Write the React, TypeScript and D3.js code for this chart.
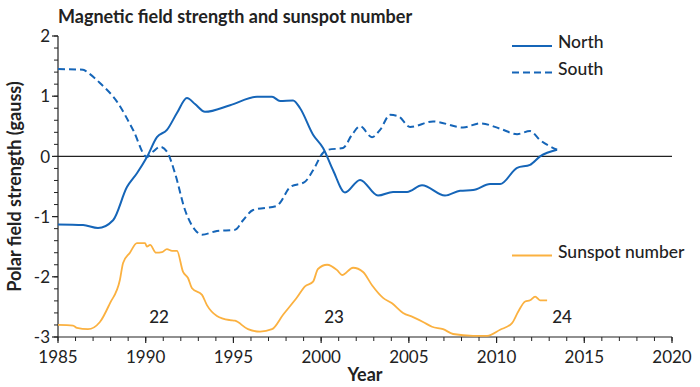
import React from "react";
import * as d3 from "d3";

const northYears = [1985, 1986.43, 1987.28, 1988.14, 1988.93, 1989.5, 1990.07, 1990.64, 1991.21, 1991.78, 1992.35, 1992.81, 1993.38, 1994.81, 1996.35, 1997.2, 1997.66, 1998.4, 1998.8, 1999.54, 2000.11, 2000.68, 2001.36, 2002.22, 2003.24, 2004.1, 2004.9, 2005.75, 2007.06, 2007.92, 2008.66, 2009.63, 2010.2, 2011.17, 2011.91, 2012.48, 2013.45];
const northValues = [-1.13, -1.14, -1.19, -1.06, -0.51, -0.28, -0.01, 0.32, 0.44, 0.72, 0.97, 0.87, 0.74, 0.85, 0.99, 0.99, 0.92, 0.93, 0.8, 0.36, 0.14, -0.23, -0.6, -0.39, -0.65, -0.59, -0.59, -0.48, -0.65, -0.57, -0.56, -0.46, -0.46, -0.19, -0.14, 0.0, 0.11];

const southYears = [1985, 1986.43, 1986.71, 1987.39, 1988.36, 1989.28, 1990.07, 1990.42, 1990.82, 1991.21, 1991.67, 1992.24, 1992.81, 1993.21, 1994.06, 1995.09, 1995.55, 1996.12, 1997.49, 1997.66, 1998.23, 1999.08, 1999.54, 2000.11, 2000.39, 2001.25, 2001.76, 2002.22, 2002.9, 2003.36, 2003.93, 2004.38, 2005.07, 2006.38, 2008.09, 2009.06, 2010.2, 2011.17, 2011.91, 2012.48, 2013.45];
const southValues = [1.45, 1.44, 1.39, 1.22, 0.91, 0.44, -0.01, 0.08, 0.16, 0.08, -0.28, -0.89, -1.22, -1.3, -1.24, -1.22, -1.06, -0.89, -0.82, -0.77, -0.51, -0.42, -0.23, 0.06, 0.11, 0.14, 0.36, 0.5, 0.32, 0.44, 0.69, 0.67, 0.49, 0.58, 0.48, 0.55, 0.46, 0.37, 0.42, 0.27, 0.11];

const sunspotYears = [1985, 1985.86, 1986.08, 1986.71, 1987.39, 1987.96, 1988.53, 1988.71, 1989.1, 1989.5, 1989.96, 1990.07, 1990.25, 1990.59, 1990.93, 1991.21, 1991.5, 1991.78, 1992.13, 1992.41, 1992.64, 1993.21, 1993.49, 1994.06, 1994.81, 1995.09, 1995.83, 1996.52, 1997.2, 1997.83, 1998.63, 1999.08, 1999.54, 1999.82, 2000.34, 2000.91, 2001.19, 2001.82, 2002.39, 2002.9, 2003.53, 2004.04, 2004.67, 2005.24, 2005.81, 2006.32, 2006.95, 2007.52, 2008.66, 2009.46, 2010.2, 2010.88, 2011.23, 2011.63, 2011.91, 2012.2, 2012.48, 2012.88];
const sunspotValues = [-2.8, -2.81, -2.85, -2.87, -2.75, -2.44, -2.05, -1.77, -1.6, -1.44, -1.44, -1.5, -1.47, -1.6, -1.59, -1.54, -1.57, -1.57, -1.92, -2.02, -2.19, -2.3, -2.47, -2.65, -2.72, -2.73, -2.87, -2.91, -2.87, -2.63, -2.34, -2.16, -2.08, -1.87, -1.8, -1.89, -1.97, -1.85, -1.92, -2.14, -2.35, -2.44, -2.6, -2.67, -2.75, -2.83, -2.87, -2.95, -2.98, -2.98, -2.88, -2.77, -2.58, -2.41, -2.39, -2.33, -2.39, -2.39];

const cycleNames = ["22", "23", "24"];
const cycleYears = [1990.76, 2000.74, 2013.73];
const cycleLevel = -2.77;

const xTicks = [1985, 1990, 1995, 2000, 2005, 2010, 2015, 2020];
const yTicks = [2, 1, 0, -1, -2, -3];

const legendNames = ["North", "South", "Sunspot number"];
const legendLevels = [1.8, 1.36, -1.68];

const BLUE = "#1565b8";
const ORANGE = "#fbb140";
const INK = "#222";
const FONT = "Lato, 'DejaVu Sans', sans-serif";

const App = () => {
  const width = 700;
  const height = 387;
  const margin = { top: 36, right: 28, bottom: 50, left: 58 };

  const x = d3
    .scaleLinear()
    .domain([1985, 2020])
    .range([margin.left, width - margin.right]);

  const y = d3
    .scaleLinear()
    .domain([-3, 2])
    .range([height - margin.bottom, margin.top]);

  const path = d3
    .line<[number, number]>()
    .x((d) => x(d[0]))
    .y((d) => y(d[1]))
    .curve(d3.curveMonotoneX);

  const zip = (xs: number[], ys: number[]) =>
    xs.map((v, i) => [v, ys[i]] as [number, number]);

  const xMinor = d3.range(1985, 2021, 1);
  const yMinor = d3.range(-3, 2.001, 0.2);

  const legendX = 512;

  return (
    <svg
      width={width}
      height={height}
      style={{ position: "absolute", left: 0, top: 0, background: "#fff" }}
      fontFamily={FONT}
    >
      <text x={58} y={23} fontSize={18} fontWeight={700} fill={INK}>
        Magnetic field strength and sunspot number
      </text>

      {/* axes */}
      <line x1={x(1985)} x2={x(1985)} y1={y(2)} y2={y(-3)} stroke={INK} strokeWidth={1.2} />
      <line x1={x(1985)} x2={x(2020)} y1={y(-3)} y2={y(-3)} stroke={INK} strokeWidth={1.2} />
      {yMinor.map((v, i) => (
        <line key={"ym" + i} x1={x(1985) - 4} x2={x(1985)} y1={y(v)} y2={y(v)} stroke={INK} strokeWidth={1} />
      ))}
      {yTicks.map((v) => (
        <g key={"y" + v}>
          <line x1={x(1985) - 6} x2={x(1985)} y1={y(v)} y2={y(v)} stroke={INK} strokeWidth={1.2} />
          <text x={x(1985) - 8} y={y(v)} dy="0.36em" textAnchor="end" fontSize={17} fill={INK}>
            {v}
          </text>
        </g>
      ))}
      {xMinor.map((v) => (
        <line key={"xm" + v} x1={x(v)} x2={x(v)} y1={y(-3)} y2={y(-3) + 4} stroke={INK} strokeWidth={1} />
      ))}
      {xTicks.map((v) => (
        <g key={"x" + v}>
          <line x1={x(v)} x2={x(v)} y1={y(-3)} y2={y(-3) + 6} stroke={INK} strokeWidth={1.2} />
          <text x={x(v)} y={363} textAnchor="middle" fontSize={17} fill={INK}>
            {v}
          </text>
        </g>
      ))}
      <text x={(x(1985) + x(2020)) / 2} y={381} textAnchor="middle" fontSize={18} fontWeight={700} fill={INK}>
        Year
      </text>
      <text
        transform={`translate(21, ${(y(2) + y(-3)) / 2}) rotate(-90)`}
        textAnchor="middle"
        fontSize={18}
        fontWeight={700}
        fill={INK}
      >
        Polar field strength (gauss)
      </text>

      {/* zero line */}
      <line x1={x(1985)} x2={x(2020)} y1={y(0)} y2={y(0)} stroke={INK} strokeWidth={1.4} />

      {/* series */}
      <path d={path(zip(sunspotYears, sunspotValues)) || ""} fill="none" stroke={ORANGE} strokeWidth={1.8} />
      <path d={path(zip(southYears, southValues)) || ""} fill="none" stroke={BLUE} strokeWidth={2} strokeDasharray="7,4" />
      <path d={path(zip(northYears, northValues)) || ""} fill="none" stroke={BLUE} strokeWidth={2} />

      {cycleNames.map((n, i) => (
        <text key={n} x={x(cycleYears[i])} y={y(cycleLevel)} textAnchor="middle" fontSize={17} fontWeight={500} fill={INK}>
          {n}
        </text>
      ))}

      {/* legend */}
      {legendNames.map((n, i) => (
        <g key={n}>
          <line
            x1={legendX}
            x2={legendX + 40}
            y1={y(legendLevels[i]) - 2}
            y2={y(legendLevels[i]) - 2}
            stroke={i === 2 ? ORANGE : BLUE}
            strokeWidth={2}
            strokeDasharray={i === 1 ? "7,4" : undefined}
          />
          <text x={legendX + 46} y={y(legendLevels[i])} fontSize={17.5} fontWeight={500} fill={INK}>
            {n}
          </text>
        </g>
      ))}
    </svg>
  );
};

export default App;
